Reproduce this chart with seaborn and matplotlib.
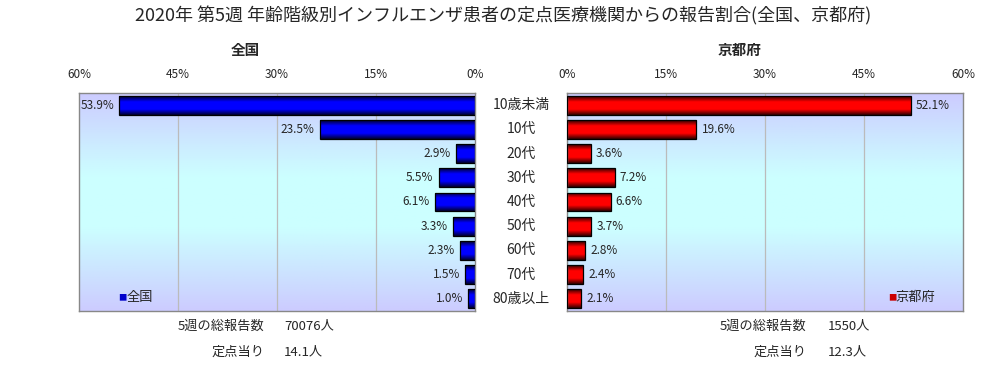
import matplotlib
matplotlib.use('Agg')
import matplotlib.pyplot as plt
import matplotlib.colors as mcolors
import numpy as np
import pandas as pd
import seaborn as sns

categories = ['10歳未満', '10代', '20代', '30代', '40代', '50代', '60代', '70代', '80歳以上']
zenkoku = [53.9, 23.5, 2.9, 5.5, 6.1, 3.3, 2.3, 1.5, 1.0]
kyoto = [52.1, 19.6, 3.6, 7.2, 6.6, 3.7, 2.8, 2.4, 2.1]
ticks = [0, 15, 30, 45, 60]

title = '2020年 第5週 年齢階級別インフルエンザ患者の定点医療機関からの報告割合(全国、京都府)'
zenkoku_total = '70076人'
zenkoku_per = '14.1人'
kyoto_total = '1550人'
kyoto_per = '12.3人'

sns.set_theme(style='white')
plt.rcParams['font.family'] = ['Noto Sans CJK JP', 'DejaVu Sans']

df = pd.DataFrame({'cat': categories, 'zenkoku': zenkoku, 'kyoto': kyoto})

fig = plt.figure(figsize=(10.06, 3.65), dpi=100)
fig.patch.set_facecolor('white')
ax_l = fig.add_axes([79 / 1006, 54 / 365, 396 / 1006, 218 / 365])
ax_r = fig.add_axes([567 / 1006, 54 / 365, 396 / 1006, 218 / 365])

# background gradient: lavender -> cyan -> lavender
bg = mcolors.LinearSegmentedColormap.from_list(
    'bg', [(0, '#CCCCFF'), (0.38, '#CCFFFF'), (0.62, '#CCFFFF'), (1, '#CCCCFF')])


def shade_bars(ax, dark, light):
    cmap = mcolors.LinearSegmentedColormap.from_list(
        'bar', [(0, dark), (0.3, light), (0.7, light), (1, dark)])
    grad = np.linspace(0, 1, 64).reshape(-1, 1)
    for p in ax.patches:
        x, y = p.get_x(), p.get_y()
        w, h = p.get_width(), p.get_height()
        im = ax.imshow(grad, cmap=cmap, aspect='auto', extent=[x, x + w, y + h, y],
                       zorder=2, interpolation='bilinear')
        im.set_clip_path(p)
        p.set_facecolor('none')
        p.set_edgecolor('black')
        p.set_linewidth(0.9)
        p.set_zorder(3)


for ax, col, dark, light in [(ax_l, 'zenkoku', '#000030', '#0000FF'),
                             (ax_r, 'kyoto', '#300000', '#FF0000')]:
    ax.imshow(np.linspace(0, 1, 100).reshape(-1, 1), cmap=bg, aspect='auto',
              extent=[0, 1, 0, 1], transform=ax.transAxes, zorder=0)
    sns.barplot(data=df, x=col, y='cat', ax=ax, color=light, width=0.78,
                orient='h', zorder=3)
    shade_bars(ax, dark, light)
    ax.set_xlim(0, 60)
    ax.set_ylim(len(categories) - 0.5, -0.5)
    ax.set_xticks(ticks)
    ax.set_xticklabels([f'{t}%' for t in ticks], fontsize=8.5)
    ax.xaxis.tick_top()
    ax.tick_params(axis='x', length=0, pad=9)
    ax.set_yticks([])
    ax.set_xlabel('')
    ax.set_ylabel('')
    for t in ticks[1:-1]:
        ax.axvline(t, color='#BBBBBB', linewidth=0.9, zorder=1)
    for s in ax.spines.values():
        s.set_color('#888888')
        s.set_linewidth(1)

ax_l.invert_xaxis()

# value labels
for i, v in enumerate(zenkoku):
    ax_l.text(v + 0.8, i, f'{v:.1f}%', ha='right', va='center', fontsize=8.5)
for i, v in enumerate(kyoto):
    ax_r.text(v + 0.8, i, f'{v:.1f}%', ha='left', va='center', fontsize=8.5)

# category labels between panels
for i, c in enumerate(categories):
    yy = ax_l.transData.transform((0, i))[1]
    fig.text(521 / 1006, fig.transFigure.inverted().transform((0, yy))[1], c,
             ha='center', va='center', fontsize=10)

# legends
ax_l.text(0.1, 0.06, '■', color='#0000CC', transform=ax_l.transAxes, ha='left', va='center', fontsize=6)
ax_l.text(0.12, 0.06, '全国', transform=ax_l.transAxes, ha='left', va='center', fontsize=9.5)
ax_r.text(0.81, 0.06, '■', color='#CC0000', transform=ax_r.transAxes, ha='left', va='center', fontsize=6)
ax_r.text(0.83, 0.06, '京都府', transform=ax_r.transAxes, ha='left', va='center', fontsize=9.5)

# titles
fig.text(0.5, 1 - 16 / 365, title, ha='center', va='center', fontsize=13)
fig.text(245 / 1006, 1 - 50 / 365, '全国', ha='center', va='center', fontsize=10.5, fontweight='bold')
fig.text(740 / 1006, 1 - 50 / 365, '京都府', ha='center', va='center', fontsize=10.5, fontweight='bold')

# footer
fig.text(264 / 1006, 1 - 326 / 365, '5週の総報告数', ha='right', va='center', fontsize=9.5)
fig.text(284 / 1006, 1 - 326 / 365, zenkoku_total, ha='left', va='center', fontsize=9.5)
fig.text(264 / 1006, 1 - 352 / 365, '定点当り', ha='right', va='center', fontsize=9.5)
fig.text(284 / 1006, 1 - 352 / 365, zenkoku_per, ha='left', va='center', fontsize=9.5)
fig.text(806 / 1006, 1 - 326 / 365, '5週の総報告数', ha='right', va='center', fontsize=9.5)
fig.text(828 / 1006, 1 - 326 / 365, kyoto_total, ha='left', va='center', fontsize=9.5)
fig.text(806 / 1006, 1 - 352 / 365, '定点当り', ha='right', va='center', fontsize=9.5)
fig.text(828 / 1006, 1 - 352 / 365, kyoto_per, ha='left', va='center', fontsize=9.5)

fig.savefig('out.png', dpi=100)
